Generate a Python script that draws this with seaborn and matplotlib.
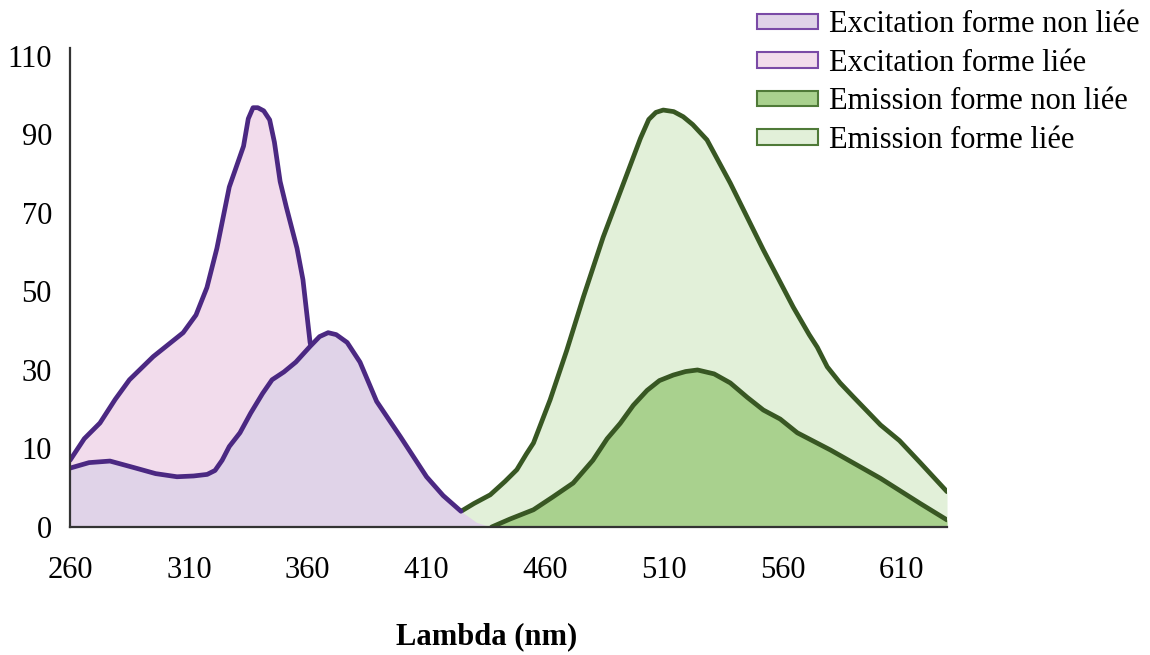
import numpy as np
import pandas as pd
import seaborn as sns
import matplotlib.pyplot as plt
from matplotlib.patches import Patch

# Spectra (intensity vs wavelength, nm)
exc_liee_x = [260, 266, 272.6, 279, 285, 295, 307.6, 313, 317.6, 321.8, 327, 333, 335,
              337, 339, 341.5, 344, 346, 348.4, 351, 355.5, 358, 361, 366, 372, 380]
exc_liee_y = [8.5, 12.5, 16.5, 22.5, 27.5, 33.4, 39.5, 44, 51, 61, 76.6, 87, 94,
              96.8, 96.8, 96, 93.7, 88, 78, 71.5, 61, 53, 37, 25, 12, 3]

exc_nonliee_x = [260, 268, 276.8, 286.5, 296, 305, 312, 317.7, 321, 324, 327, 331.5,
                 336, 341, 345, 350, 355, 361, 365, 368.6, 372, 376.6, 382, 389,
                 399, 410, 417, 424.5, 431, 437]
exc_nonliee_y = [7.5, 8.2, 8.4, 7.6, 6.8, 6.4, 6.5, 6.7, 7.2, 8.5, 10.5, 14,
                 19, 24, 27.5, 29.5, 32, 36, 38.5, 39.5, 39, 37, 32, 22,
                 13, 6.4, 4, 2, 0.6, 0]
exc_nonliee_line_end = 424.5

em_liee_x = [424.5, 430, 436.8, 443, 448, 452, 455, 462, 469, 476, 484.3, 494.4,
             500, 503.5, 506.5, 509.6, 514, 518, 522, 528, 537.8, 551.7, 564.3,
             571, 574.4, 578.6, 584, 589.5, 601, 609, 617.7, 629]
em_liee_y = [2, 3, 4.1, 5.8, 7.3, 9.3, 11.4, 22.4, 35, 48.6, 63.8, 80,
             89, 93.8, 95.6, 96.2, 95.8, 94.5, 92.5, 88.6, 77.6, 60.6, 46,
             39, 35.8, 30.8, 26.7, 23.2, 16, 12, 8.2, 4.5]

em_nonliee_x = [437.4, 445, 455, 463, 471.7, 480, 486, 491.5, 497, 502.8, 508, 513.8,
                519, 524, 531, 537.8, 545, 551.7, 558.8, 566, 580, 601, 617.7, 629]
em_nonliee_y = [0, 1, 2.2, 3.8, 5.6, 8.5, 12.5, 16.4, 21, 24.8, 27.3, 28.7,
                29.6, 30, 29, 26.7, 23, 19.8, 17.5, 14, 9.8, 6.2, 3, 0.9]

x_ticks = [260, 310, 360, 410, 460, 510, 560, 610]
y_ticks = [0, 10, 30, 50, 70, 90, 110]

labels = ['Excitation forme non liée', 'Excitation forme liée',
          'Emission forme non liée', 'Emission forme liée']

purple = '#4b2882'
dkgreen = '#385723'
c_exc_nonliee = '#e0d3e8'
c_exc_liee = '#f2dcec'
c_em_nonliee = '#a9d18e'
c_em_liee = '#e2f0d9'

sns.set_theme(style='white')
plt.rcParams['font.family'] = ['Liberation Serif', 'DejaVu Serif']
plt.rcParams['text.color'] = 'black'


# the original axis has evenly spaced labels 0,10,30,...,110
def fwd(v):
    v = np.asarray(v, dtype=float)
    return np.where(v <= 10, v / 10.0, 1 + (v - 10) / 20.0)


def inv(p):
    p = np.asarray(p, dtype=float)
    return np.where(p <= 1, p * 10.0, 10 + (p - 1) * 20.0)


fig = plt.figure(figsize=(11.5, 6.55), dpi=100)
ax = fig.add_axes([0.0609, 0.1954, 0.7626, 0.7313])
ax.set_yscale('function', functions=(fwd, inv))

line_kw = dict(lw=3.4, sort=False, solid_joinstyle='round', solid_capstyle='round')

# emission (behind)
d = pd.DataFrame({'x': em_liee_x, 'y': em_liee_y})
ax.fill_between(d.x, 0, d.y, color=c_em_liee, lw=0, zorder=1)
sns.lineplot(data=d, x='x', y='y', ax=ax, color=dkgreen, zorder=2, **line_kw)

d = pd.DataFrame({'x': em_nonliee_x, 'y': em_nonliee_y})
ax.fill_between(d.x, 0, d.y, color=c_em_nonliee, lw=0, zorder=3)
sns.lineplot(data=d, x='x', y='y', ax=ax, color=dkgreen, zorder=4, **line_kw)

# excitation
d = pd.DataFrame({'x': exc_liee_x, 'y': exc_liee_y})
ax.fill_between(d.x, 0, d.y, color=c_exc_liee, lw=0, zorder=5)
sns.lineplot(data=d, x='x', y='y', ax=ax, color=purple, zorder=6, **line_kw)

d = pd.DataFrame({'x': exc_nonliee_x, 'y': exc_nonliee_y})
ax.fill_between(d.x, 0, d.y, color=c_exc_nonliee, lw=0, zorder=7)
dl = d[d.x <= exc_nonliee_line_end]
sns.lineplot(data=dl, x='x', y='y', ax=ax, color=purple, zorder=8, **line_kw)

ax.set_xlim(260, 629)
ax.set_ylim(0, 112)
ax.set_xticks(x_ticks)
ax.set_xticklabels([str(t) for t in x_ticks])
ax.set_yticks(y_ticks)
ax.set_yticklabels([str(t) for t in y_ticks])
ax.yaxis.set_minor_locator(plt.NullLocator())
ax.tick_params(axis='both', length=0, labelsize=22, colors='black')
ax.tick_params(axis='x', pad=21)
ax.tick_params(axis='y', pad=13)

for s in ['top', 'right']:
    ax.spines[s].set_visible(False)
for s in ['left', 'bottom']:
    ax.spines[s].set_color('#333333')
    ax.spines[s].set_linewidth(1.6)
    ax.spines[s].set_zorder(10)

ax.set_ylabel('')
ax.set_xlabel('Lambda (nm)', fontsize=22, fontweight='bold', color='black')
ax.xaxis.set_label_coords(0.4755, -0.23)
ax.xaxis.label.set_va('center')

handles = [
    Patch(facecolor=c_exc_nonliee, edgecolor='#7a4aa6', lw=1.5),
    Patch(facecolor=c_exc_liee, edgecolor='#7a4aa6', lw=1.5),
    Patch(facecolor=c_em_nonliee, edgecolor='#4f7a38', lw=1.5),
    Patch(facecolor=c_em_liee, edgecolor='#4f7a38', lw=1.5),
]
fig.legend(handles, labels, loc='upper left', bbox_to_anchor=(0.658, 0.984),
           frameon=False, fontsize=22, handlelength=2.0, handleheight=0.4,
           handletextpad=0.35, labelspacing=0.31, borderaxespad=0, borderpad=0,
           labelcolor='black')

fig.savefig('out.png', dpi=100)
